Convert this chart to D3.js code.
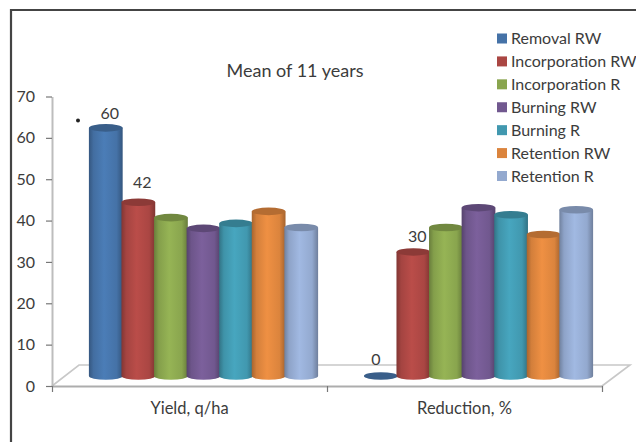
<!DOCTYPE html>
<html>
<head>
<meta charset="utf-8">
<script src="https://cdn.jsdelivr.net/npm/d3@7"></script>
<style>
html, body { margin: 0; padding: 0; background: #fff; overflow: hidden; }
svg { display: block; font-family: Lato, "Open Sans", sans-serif; }
</style>
</head>
<body>
<svg id="chart" width="636" height="442"></svg>
<script>
const categories = ["Yield, q/ha", "Reduction, %"];
const seriesNames = ["Removal RW", "Incorporation RW", "Incorporation R", "Burning RW", "Burning R", "Retention RW", "Retention R"];
const seriesColors = ["#4572A7", "#AA4643", "#89A54E", "#71588F", "#4198AF", "#DB843D", "#93A9CF"];
const yieldValues = [60, 42, 38.3, 35.7, 36.9, 39.8, 35.9];
const reductionValues = [0, 30, 35.9, 40.7, 39, 34.2, 40.2];
const yTicks = [0, 10, 20, 30, 40, 50, 60, 70];
const labelledPoints = [
  { category: 0, series: 0, value: 60, dx: 4, dy: -9 },
  { category: 0, series: 1, value: 42, dx: 4, dy: -14 },
  { category: 1, series: 1, value: 30, dx: 4, dy: -10 },
  { category: 1, series: 0, value: 0, dx: -5, dy: -11 }
];
const seriesValues = [yieldValues, reductionValues];

const svg = d3.select("#chart");
const plot = { left: 52, right: 602, top: 96.5, bottom: 386 };
const depth = { x: 27, y: 21 };      // floor skew of the pseudo-3D plot
const barShift = { x: 29, y: -10 };  // columns stand mid-way across the floor
const capRy = 3.8;

const y = d3.scaleLinear().domain([0, 70]).range([plot.bottom, plot.top]);
const x0 = d3.scaleBand().domain(d3.range(categories.length)).range([plot.left, plot.right]);
const x1 = d3.scaleBand().domain(d3.range(seriesNames.length)).range([8.5, x0.bandwidth() - 38.5]);

// Page frame: only the top and left rules are in view
svg.append("path")
  .attr("d", "M11,442V10H636")
  .attr("fill", "none").attr("stroke", "#444").attr("stroke-width", 2.2);

// Floor of the plot
svg.append("path")
  .attr("d", d3.line()([
    [plot.left, plot.bottom],
    [plot.left + depth.x, plot.bottom - depth.y],
    [plot.right + depth.x + 1, plot.bottom - depth.y],
    [plot.right, plot.bottom]
  ]))
  .attr("fill", "#fff").attr("stroke", "#c8c8c8").attr("stroke-width", 1.6);

// Horizontal cylinder shading, one gradient per series
const defs = svg.append("defs");
seriesColors.forEach((c, i) => {
  const base = d3.color(c);
  const g = defs.append("linearGradient").attr("id", "cyl" + i)
    .attr("x1", "0%").attr("x2", "100%").attr("y1", "0%").attr("y2", "0%");
  [[0, base.darker(0.75)], [0.14, base.darker(0.1)], [0.45, base.brighter(0.25)],
   [0.82, base], [1, base.darker(0.8)]].forEach(([o, col]) => {
    g.append("stop").attr("offset", o).attr("stop-color", col.formatHex());
  });
});

// Columns
const groups = svg.append("g").selectAll("g")
  .data(categories.map((c, i) => i))
  .join("g")
  .attr("transform", d => `translate(${x0(d) + barShift.x},${barShift.y})`);

groups.each(function (cat) {
  const g = d3.select(this);
  seriesValues[cat].forEach((v, s) => {
    const left = x1(s), w = x1.bandwidth(), cx = left + w / 2, rx = w / 2 + 0.6;
    const top = y(v), base = y(0);
    if (v > 0) {
      g.append("path")
        .attr("d", `M${cx - rx},${top}V${base}A${rx},${capRy} 0 0 0 ${cx + rx},${base}V${top}Z`)
        .attr("fill", `url(#cyl${s})`);
    }
    g.append("ellipse")
      .attr("cx", cx).attr("cy", top).attr("rx", rx).attr("ry", capRy)
      .attr("fill", d3.color(seriesColors[s]).darker(0.55).formatHex());
  });
});

// Y axis
const yAxis = svg.append("g")
  .attr("transform", `translate(${plot.left},0)`)
  .call(d3.axisLeft(y).tickValues(yTicks).tickSize(6).tickPadding(11).tickSizeOuter(0));
yAxis.select(".domain").attr("stroke", "#bdbdbd").attr("stroke-width", 2);
yAxis.selectAll(".tick line").attr("stroke", "#777").attr("stroke-width", 1.2);
yAxis.selectAll(".tick text").attr("fill", "#3c3c3c").attr("font-size", 16).attr("font-family", "Lato");

// X axis
const xAxisScale = d3.scaleLinear().domain([0, categories.length]).range([plot.left, plot.right]);
const xAxis = svg.append("g")
  .attr("transform", `translate(0,${plot.bottom})`)
  .call(d3.axisBottom(xAxisScale).tickValues(d3.range(categories.length + 1)).tickFormat("").tickSize(6).tickSizeOuter(0));
xAxis.select(".domain").attr("stroke", "#adadad").attr("stroke-width", 2);
xAxis.selectAll(".tick line").attr("stroke", "#777").attr("stroke-width", 1.2);

// Category names
svg.append("g").selectAll("text").data(categories).join("text")
  .attr("x", (d, i) => x0(i) + x0.bandwidth() / 2)
  .attr("y", 414)
  .attr("text-anchor", "middle")
  .attr("font-size", 16.5).attr("fill", "#3c3c3c")
  .text(d => d);

// Value labels
svg.append("g").selectAll("text").data(labelledPoints).join("text")
  .attr("x", d => x0(d.category) + barShift.x + x1(d.series) + x1.bandwidth() / 2 + d.dx)
  .attr("y", d => y(d.value) + barShift.y + d.dy)
  .attr("text-anchor", "middle")
  .attr("font-size", 16).attr("fill", "#3c3c3c")
  .text(d => d.value);

// Title
svg.append("text")
  .attr("x", 295).attr("y", 77)
  .attr("text-anchor", "middle")
  .attr("font-size", 18).attr("fill", "#3c3c3c")
  .text("Mean of 11 years");

// Stray mark beside the first column
svg.append("circle").attr("cx", 78).attr("cy", 120.5).attr("r", 2).attr("fill", "#222");

// Legend
const legendY = d3.scalePoint().domain(seriesNames).range([38.5, 176]);
const legend = svg.append("g").selectAll("g").data(seriesNames).join("g")
  .attr("transform", d => `translate(497,${legendY(d)})`);
legend.append("rect")
  .attr("x", 0).attr("y", -5).attr("width", 10).attr("height", 10)
  .attr("fill", (d, i) => seriesColors[i]);
legend.append("text")
  .attr("x", 14).attr("y", 5.5)
  .attr("font-size", 16).attr("fill", "#3c3c3c")
  .text(d => d);
</script>
</body>
</html>
